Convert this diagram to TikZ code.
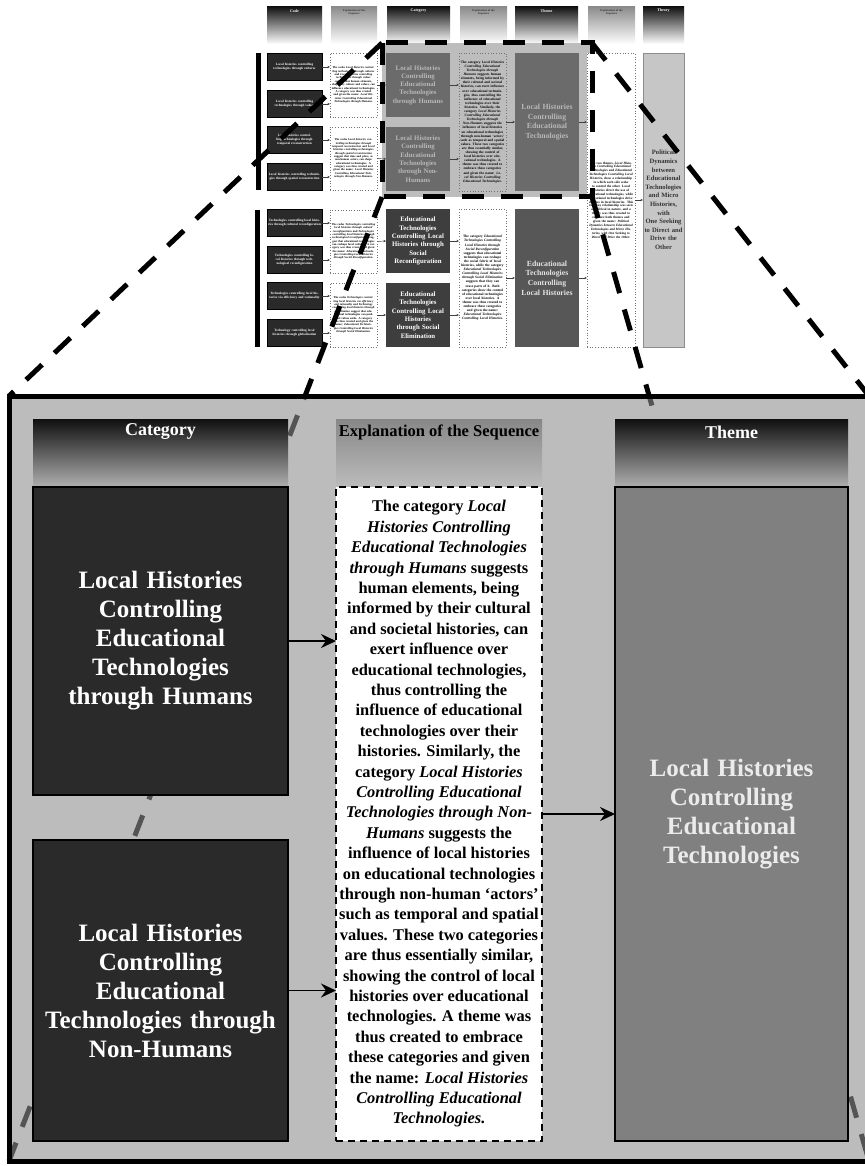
\documentclass[tikz,border=0pt]{standalone}
\usepackage{fontspec}
\setmainfont{Liberation Serif}
\usetikzlibrary{arrows.meta}

\definecolor{catdark}{HTML}{2A2A2A}
\definecolor{thememid}{HTML}{808080}
\definecolor{panelveil}{gray}{0.556}
\definecolor{hlgray}{HTML}{BDBDBD}
\definecolor{hlbox}{HTML}{6B6B6B}
\definecolor{hltext}{HTML}{B8B8B8}
\definecolor{lowcat}{HTML}{3E3E3E}
\definecolor{lowtheme}{HTML}{575757}
\definecolor{theorygray}{HTML}{C6C6C6}

\begin{document}
\begin{tikzpicture}[x=1pt,y=-1pt,
  base/.style={inner sep=0pt,outer sep=0pt,align=center},
  darkhead/.style={base,top color=black!92,bottom color=white},
  lighthead/.style={base,top color=black!45,bottom color=white},
  smheadtxt/.style={base,font=\fontsize{4}{4.5}\selectfont\bfseries,text=white},
  smexptxt/.style={base,font=\fontsize{2.8}{3.2}\selectfont\bfseries,text=black!80},
  codebox/.style={base,fill=catdark,draw=black,line width=0.4pt,minimum width=55,minimum height=27,
    text width=53,text=white,font=\fontsize{3.3}{3.9}\selectfont\bfseries},
  dotbox/.style={base,draw=black!55,dotted,line width=0.7pt,fill=white,minimum width=47,
    text width=44,font=\fontsize{2.9}{3.35}\selectfont\bfseries},
  smcat/.style={base,minimum width=64,minimum height=64,text width=60,
    font=\fontsize{6.8}{8.3}\selectfont\bfseries},
  smtheme/.style={base,minimum width=64,minimum height=138,text width=60,
    font=\fontsize{7.8}{9.6}\selectfont\bfseries},
  smarrow/.style={-{Stealth[length=2.6pt,width=2.4pt]},line width=0.45pt,black!75},
  zoomdash/.style={line width=5pt,dash pattern=on 22pt off 17pt,black},
  bighead/.style={base,top color=black!94,bottom color=black!33,minimum width=#1,minimum height=66},
  expheadstyle/.style={base,top color=black!47,bottom color=black!27,minimum width=206,minimum height=66},
  bigcat/.style={base,fill=catdark,draw=black,line width=1.2pt,minimum width=255,text width=250,
    text=white,font=\fontsize{25}{29}\selectfont\bfseries},
  bigarrow/.style={-{Stealth[length=15pt,width=14pt,inset=5pt]},line width=1.8pt,black}
]
\useasboundingbox (0,0) rectangle (864,1166);
\fill[white] (0,0) rectangle (864,1166);

% ---------- overview of the full coding scheme ----------
% column headers
\node[darkhead,minimum width=55,minimum height=37] (hcode) at (294.5,25.5) {};
\node[smheadtxt] (hcodet) at (294.5,11) {Code};
\node[lighthead,minimum width=46,minimum height=37] (hexpa) at (354,25.5) {};
\node[smexptxt] (hexpat) at (354,12) {Explanation of the\\Sequence};
\node[darkhead,minimum width=63,minimum height=37] (hcat) at (418.5,25.5) {};
\node[smheadtxt] (hcatt) at (418.5,11) {Category};
\node[lighthead,minimum width=47,minimum height=37] (hexpb) at (483.5,25.5) {};
\node[smexptxt] (hexpbt) at (483.5,12) {Explanation of the\\Sequence};
\node[darkhead,minimum width=63,minimum height=37] (htheme) at (546.5,25.5) {};
\node[smheadtxt] (hthemet) at (546.5,11) {Theme};
\node[lighthead,minimum width=47,minimum height=37] (hexpc) at (611.5,25.5) {};
\node[smexptxt] (hexpct) at (611.5,12) {Explanation of the\\Sequence};
\node[darkhead,minimum width=41,minimum height=37] (htheory) at (663.5,25.5) {};
\node[smheadtxt] (htheoryt) at (663.5,11) {Theory};

% group bars
\fill[black] (256,53) rectangle (261,190);
\fill[black] (255,210) rectangle (260,347);

% highlighted region background
\node[base,fill=hlgray,minimum width=210,minimum height=154] (hl) at (487,120) {};

% codes
\node[codebox] (c1) at (294.5,67) {Local histories controlling technologies through cultures};
\node[codebox] (c2) at (294.5,104) {Local histories controlling technologies through values};
\node[codebox] (c3) at (294.5,140) {Local histories controlling technologies through temporal reconstruction};
\node[codebox] (c4) at (294.5,177) {Local histories controlling technologies through spatial reconstruction};
\node[codebox] (c5) at (294.5,223) {Technologies controlling local histories through cultural reconfiguration};
\node[codebox] (c6) at (294.5,260) {Technologies controlling local histories through technological reconfiguration};
\node[codebox] (c7) at (294.5,296) {Technologies controlling local histories via efficiency and rationality};
\node[codebox] (c8) at (294.5,333) {Technology controlling local histories through globalization};

% code-level explanations
\node[dotbox,minimum height=64] (e1) at (353.5,85) {The codes \textit{Local histories controlling technologies through cultures} and \textit{Local histories controlling technologies through values} suggest that human elements, shaped by culture and values, can influence educational technologies. A category was thus created and given the name: \textit{Local Histories Controlling Educational Technologies through Humans}.};
\node[dotbox,minimum height=63] (e2) at (353.5,158.5) {The codes \textit{Local histories controlling technologies through temporal reconstruction} and \textit{Local histories controlling technologies through spatial reconstruction} suggest that time and place, as non-human actors, can shape educational technologies. A category was thus created and given the name: \textit{Local Histories Controlling Educational Technologies through Non-Humans}.};
\node[dotbox,minimum height=63] (e3) at (353.5,241.5) {The codes \textit{Technologies controlling local histories through cultural reconfiguration} and \textit{Technologies controlling local histories through technological reconfiguration} suggest that educational technologies can reshape local cultures. A category was thus created and given the name: \textit{Educational Technologies Controlling Local Histories through Social Reconfiguration}.};
\node[dotbox,minimum height=64] (e4) at (353.5,315) {The codes \textit{Technologies controlling local histories via efficiency and rationality} and \textit{Technology controlling local histories through globalization} suggest that educational technologies can push local values aside. A category was thus created and given the name: \textit{Educational Technologies Controlling Local Histories through Social Elimination}.};

% categories
\node[smcat,fill=hlbox,text=hltext] (k1) at (418,85) {Local Histories\\Controlling\\Educational\\Technologies\\through Humans};
\node[smcat,fill=hlbox,text=hltext] (k2) at (418,159) {Local Histories\\Controlling\\Educational\\Technologies\\through Non-\\Humans};
\node[smcat,fill=lowcat,text=white] (k3) at (418,241) {Educational\\Technologies\\Controlling Local\\Histories through\\Social\\Reconfiguration};
\node[smcat,fill=lowcat,text=white] (k4) at (418,315) {Educational\\Technologies\\Controlling Local\\Histories\\through Social\\Elimination};

% category-level explanations
\node[dotbox,fill=hlgray,minimum height=138,font=\fontsize{3.5}{4.1}\selectfont\bfseries] (f1) at (482.5,122) {The category \textit{Local Histories Controlling Educational Technologies through Humans} suggests human elements, being informed by their cultural and societal histories, can exert influence over educational technologies, thus controlling the influence of educational technologies over their histories. Similarly, the category \textit{Local Histories Controlling Educational Technologies through Non-Humans} suggests the influence of local histories on educational technologies through non-human `actors' such as temporal and spatial values. These two categories are thus essentially similar, showing the control of local histories over educational technologies. A theme was thus created to embrace these categories and given the name: \textit{Local Histories Controlling Educational Technologies}.};
\node[dotbox,minimum height=138,font=\fontsize{3.5}{4.1}\selectfont\bfseries] (f2) at (482.5,278) {The category \textit{Educational Technologies Controlling Local Histories through Social Reconfiguration} suggests that educational technologies can reshape the social fabric of local histories, while the category \textit{Educational Technologies Controlling Local Histories through Social Elimination} suggests that they can erase parts of it. Both categories show the control of educational technologies over local histories. A theme was thus created to embrace these categories and given the name: \textit{Educational Technologies Controlling Local Histories}.};

% themes
\node[smtheme,fill=hlbox,text=hltext] (t1) at (547,122) {Local Histories\\Controlling\\Educational\\Technologies};
\node[smtheme,fill=lowtheme,text=white!90!black] (t2) at (547,278) {Educational\\Technologies\\Controlling\\Local Histories};

% theme-level explanation and theory
\node[dotbox,minimum width=48,text width=45,minimum height=294,font=\fontsize{3.3}{3.9}\selectfont\bfseries] (g) at (611,200) {The two themes, \textit{Local Histories Controlling Educational Technologies} and \textit{Educational Technologies Controlling Local Histories}, show a relationship in which each side seeks to control the other. Local histories direct the use of educational technologies, while educational technologies drive changes in local histories. This two-way relationship was seen as political in nature, and a theory was thus created to embrace both themes and given the name: \textit{Political Dynamics between Educational Technologies and Micro Histories, with One Seeking to Direct and Drive the Other}.};
\node[base,fill=theorygray,draw=black!45,line width=0.6pt,minimum width=41,minimum height=294,text width=41,
  font=\fontsize{6.6}{8.6}\selectfont\bfseries,text=black!80] (th) at (663.5,200)
  {Political\\Dynamics\\between\\Educational\\Technologies\\and Micro\\Histories, with\\One Seeking\\to Direct and\\Drive the\\Other};

% overview connectors
\foreach \c/\e in {c1/e1,c2/e1,c3/e2,c4/e2,c5/e3,c6/e3,c7/e4,c8/e4}
  \draw[smarrow] (\c.east) -- (\c.east -| \e.west);
\draw[smarrow] (e1.east) -- (k1.west);
\draw[smarrow] (e2.east) -- (k2.west);
\draw[smarrow] (e3.east) -- (k3.west);
\draw[smarrow] (e4.east) -- (k4.west);
\foreach \k/\f in {k1/f1,k2/f1,k3/f2,k4/f2}
  \draw[smarrow] (\k.east) -- (\k.east -| \f.west);
\draw[smarrow] (f1.east) -- (t1.west);
\draw[smarrow] (f2.east) -- (t2.west);
\draw[smarrow] (t1.east) -- (t1.east -| g.west);
\draw[smarrow] (t2.east) -- (t2.east -| g.west);
\draw[smarrow] (g.east) -- (th.west);

% dashed outline of the enlarged region
\draw[zoomdash] (hl.north west) rectangle (hl.south east);

% ---------- enlarged view ----------
\node[base,minimum width=860,minimum height=765] (panel) at (439,778.5) {};
\draw[zoomdash] (hl.north west) -- (panel.north west);
\draw[zoomdash] (hl.north east) -- (panel.north east);
\draw[zoomdash] (hl.south west) -- (panel.south west);
\draw[zoomdash] (hl.south east) -- (panel.south east);
\fill[panelveil,fill opacity=0.593] (panel.north west) rectangle (panel.south east);
\draw[line width=5pt] (panel.north west) rectangle (panel.south east);

% headers
\node[bighead=255] (cathead) at (160.5,452) {};
\node[base,font=\fontsize{18}{20}\selectfont\bfseries,text=white] (cathtxt) at (160.5,432) {Category};
\node[expheadstyle] (exphead) at (439,452) {};
\node[base,font=\fontsize{16.5}{18}\selectfont\bfseries,text=black] (exphtxt) at (439,432) {Explanation of the Sequence};
\node[bighead=233] (themehead) at (731.5,452) {};
\node[base,font=\fontsize{18}{20}\selectfont\bfseries,text=white] (themehtxt) at (731.5,432) {Theme};

% boxes
\node[bigcat,minimum height=308] (cat1) at (160.5,641) {Local Histories\\Controlling\\Educational\\Technologies\\through Humans};
\node[bigcat,minimum height=301] (cat2) at (160.5,990.5) {Local Histories\\Controlling\\Educational\\Technologies through\\Non-Humans};
\node[base,fill=white,draw=black,line width=2.2pt,dash pattern=on 7pt off 5pt,minimum width=206,minimum height=654] (expl) at (439,814) {};
\node[base,font=\fontsize{16.4}{20.4}\selectfont\bfseries] (expltxt) at (expl.center)
  {The category \textit{Local}\\
   \textit{Histories Controlling}\\
   \textit{Educational Technologies}\\
   \textit{through Humans} suggests\\
   human elements, being\\
   informed by their cultural\\
   and societal histories, can\\
   exert influence over\\
   educational technologies,\\
   thus controlling the\\
   influence of educational\\
   technologies over their\\
   histories. Similarly, the\\
   category \textit{Local Histories}\\
   \textit{Controlling Educational}\\
   \textit{Technologies through Non-}\\
   \textit{Humans} suggests the\\
   influence of local histories\\
   on educational technologies\\
   through non-human `actors'\\
   such as temporal and spatial\\
   values. These two categories\\
   are thus essentially similar,\\
   showing the control of local\\
   histories over educational\\
   technologies. A theme was\\
   thus created to embrace\\
   these categories and given\\
   the name: \textit{Local Histories}\\
   \textit{Controlling Educational}\\
   \textit{Technologies.}};
\node[base,fill=thememid,draw=black,line width=1.2pt,minimum width=233,minimum height=654,text width=228,
  text=white!92!black,font=\fontsize{25}{29}\selectfont\bfseries] (theme) at (731.5,814)
  {Local Histories\\Controlling\\Educational\\Technologies};

% connectors
\draw[bigarrow] (cat1.east) -- (cat1.east -| expl.west);
\draw[bigarrow] (cat2.east) -- (cat2.east -| expl.west);
\draw[bigarrow] (expl.east) -- (theme.west);
\end{tikzpicture}
\end{document}
